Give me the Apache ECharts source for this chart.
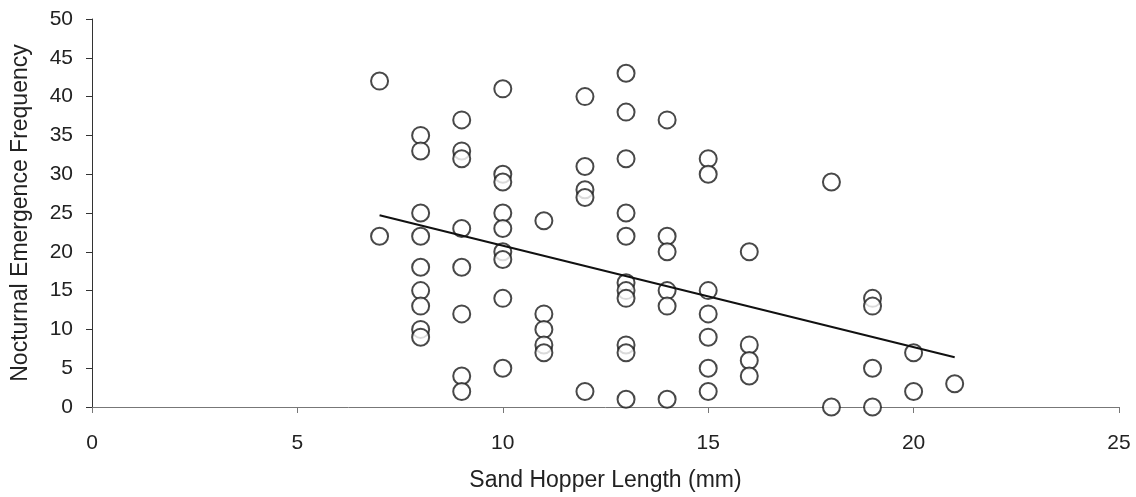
<!DOCTYPE html>
<html>
<head>
<meta charset="utf-8">
<script src="https://cdn.jsdelivr.net/npm/echarts@6/dist/echarts.min.js"></script>
<style>
  html, body { margin: 0; padding: 0; background: #fff; }
  #chart { width: 1136px; height: 497px; }
</style>
</head>
<body>
<div id="chart"></div>
<script>
// sand hopper length (mm) and nocturnal emergence frequency
var lengths = [
  7, 7,
  8, 8, 8, 8, 8, 8, 8, 8, 8,
  9, 9, 9, 9, 9, 9, 9, 9,
  10, 10, 10, 10, 10, 10, 10, 10, 10,
  11, 11, 11, 11, 11,
  12, 12, 12, 12, 12,
  13, 13, 13, 13, 13, 13, 13, 13, 13, 13, 13,
  14, 14, 14, 14, 14, 14,
  15, 15, 15, 15, 15, 15, 15,
  16, 16, 16, 16,
  18, 18,
  19, 19, 19, 19,
  20, 20,
  21
]
var frequency = [
  42, 22,
  35, 33, 25, 22, 18, 15, 13, 10, 9,
  37, 33, 32, 23, 18, 12, 4, 2,
  41, 30, 29, 25, 23, 20, 19, 14, 5,
  24, 12, 10, 8, 7,
  40, 31, 28, 27, 2,
  43, 38, 32, 25, 22, 16, 15, 14, 8, 7, 1,
  37, 22, 20, 15, 13, 1,
  32, 30, 15, 12, 9, 5, 2,
  20, 8, 6, 4,
  29, 0,
  14, 13, 5, 0,
  7, 2,
  3
]
// trend line end points
var trendX = [7, 21]
var trendY = [24.7, 6.4]

var chart = echarts.init(document.getElementById('chart'))
chart.setOption({
  backgroundColor: '#ffffff',
  animation: false,
  textStyle: { fontFamily: 'Liberation Sans, Arial, sans-serif' },
  grid: {
    left: 92,
    right: 17,
    top: 19,
    bottom: 90,
    containLabel: false,
    outerBoundsMode: 'none'
  },
  xAxis: {
    type: 'value',
    min: 0,
    max: 25,
    interval: 5,
    name: 'Sand Hopper Length (mm)',
    nameLocation: 'middle',
    nameGap: 62,
    nameTextStyle: { fontSize: 23, color: '#222' },
    axisLine: { show: true, lineStyle: { color: '#777', width: 1 } },
    axisTick: { show: true, length: 6, lineStyle: { color: '#777' } },
    axisLabel: { fontSize: 21, color: '#222', margin: 26 },
    splitLine: { show: false }
  },
  yAxis: {
    type: 'value',
    min: 0,
    max: 50,
    interval: 5,
    name: 'Nocturnal Emergence Frequency',
    nameLocation: 'middle',
    nameGap: 60,
    nameTextStyle: { fontSize: 23, color: '#222' },
    axisLine: { show: true, lineStyle: { color: '#333', width: 1 } },
    axisTick: { show: true, length: 6, lineStyle: { color: '#333' } },
    axisLabel: { fontSize: 21, color: '#222', margin: 19 },
    splitLine: { show: false }
  },
  series: [
    {
      type: 'scatter',
      symbol: 'circle',
      symbolSize: 17,
      itemStyle: { color: '#ffffff', borderColor: '#1a1a1a', borderWidth: 2 },
      data: lengths.map(function (x, i) { return [x, frequency[i]] })
    },
    {
      type: 'line',
      symbol: 'none',
      lineStyle: { color: '#111', width: 2 },
      data: trendX.map(function (x, i) { return [x, trendY[i]] }),
      z: 3
    }
  ]
})
</script>
</body>
</html>
